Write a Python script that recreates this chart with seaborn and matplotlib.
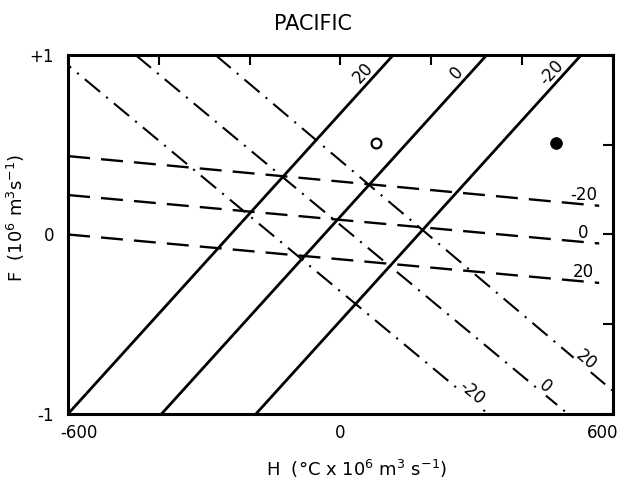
import numpy as np
import pandas as pd
import matplotlib
matplotlib.use("Agg")
import matplotlib.pyplot as plt
import matplotlib.transforms as mtransforms
import seaborn as sns

# solid family (labels 20, 0, -20): H where each line crosses F = -1 and F = +1
solid_labels = ["20", "0", "-20"]
solid_h_bottom = [-600, -394, -186]
solid_h_top = [116, 322, 530]

# dashed family (labels -20, 0, 20 from top): F at the two ends
dashed_labels = ["-20", "0", "20"]
dashed_h_ends = [-600, 570]
dashed_f_left = [0.437, 0.22, 0.0]
dashed_f_right = [0.16, -0.05, -0.27]

# dash-dot family (labels -20, 0, 20 from left): H where each crosses F = +1 and F = -1
dashdot_labels = ["-20", "0", "20"]
dashdot_h_top = [-627, -451, -275]
dashdot_h_bottom = [325, 501, 660]
dashdot_label_f = [-0.88, -0.85, -0.70]

# observed points
open_h, open_f = [79], [0.51]
filled_h, filled_f = [474], [0.51]


def two_point_frame(names, x0, y0, x1, y1):
    rows = []
    for n, a, b, c, d in zip(names, x0, y0, x1, y1):
        rows.append({"line": n, "H": a, "F": b})
        rows.append({"line": n, "H": c, "F": d})
    return pd.DataFrame(rows)


solid_df = two_point_frame(solid_labels, solid_h_bottom, [-1] * 3, solid_h_top, [1] * 3)
dashed_df = two_point_frame(dashed_labels, [dashed_h_ends[0]] * 3, dashed_f_left,
                            [dashed_h_ends[1]] * 3, dashed_f_right)
dashdot_df = two_point_frame(dashdot_labels, dashdot_h_top, [1] * 3, dashdot_h_bottom, [-1] * 3)

sns.set_theme(style="white")
plt.rcParams["font.family"] = ["DejaVu Sans"]
for key in ["text.color", "axes.labelcolor", "xtick.color", "ytick.color"]:
    plt.rcParams[key] = "black"

fig = plt.figure(figsize=(6.19, 4.88), dpi=100)
ax = fig.add_axes([0.110, 0.152, 0.880, 0.735])

sns.lineplot(data=solid_df, x="H", y="F", units="line", estimator=None, sort=False,
             color="black", lw=2.0, legend=False, ax=ax)
sns.lineplot(data=dashed_df, x="H", y="F", units="line", estimator=None, sort=False,
             color="black", lw=1.7, linestyle=(0, (9.3, 4.7)), legend=False, ax=ax)
sns.lineplot(data=dashdot_df, x="H", y="F", units="line", estimator=None, sort=False,
             color="black", lw=1.5, linestyle=(0, (9.5, 3.8, 1.0, 3.8)), legend=False, ax=ax)

sns.scatterplot(x=open_h, y=open_f, marker="o", s=50, facecolor="white",
                edgecolor="black", linewidth=1.6, ax=ax, zorder=5)
sns.scatterplot(x=filled_h, y=filled_f, marker="o", s=70, color="black",
                edgecolor="black", ax=ax, zorder=5)

# labels on the solid lines, near the top
for n, hb, ht in zip(solid_labels, solid_h_bottom, solid_h_top):
    f = 0.9
    h = hb + (ht - hb) * (f + 1) / 2 - 30
    ang = np.degrees(np.arctan2(2, ht - hb))
    ax.text(h, f, n, rotation=ang, transform_rotates_text=True, ha="center",
            va="center", fontsize=12, rotation_mode="anchor")

# labels above the right ends of the dashed lines
for n, fr in zip(dashed_labels, dashed_f_right):
    ax.text(dashed_h_ends[1] - 35, fr + 0.01, n, ha="center", va="bottom", fontsize=12)

# inline labels on the dash-dot lines
for n, ht, hb, f in zip(dashdot_labels, dashdot_h_top, dashdot_h_bottom, dashdot_label_f):
    h = ht + (hb - ht) * (1 - f) / 2 + 22
    ang = np.degrees(np.arctan2(-2, hb - ht))
    ax.text(h, f, n, rotation=ang, transform_rotates_text=True, ha="center",
            va="center", fontsize=12, rotation_mode="anchor",
            bbox=dict(facecolor="white", edgecolor="none", pad=0.5))

ax.set_xlim(-600, 600)
ax.set_ylim(-1, 1)
ax.set_xticks([-600, -400, -200, 0, 200, 400, 600])
ax.set_xticklabels(["-600", "", "", "0", "", "", "600"])
ax.set_yticks([-1, -0.5, 0, 0.5, 1])
ax.set_yticklabels(["-1", "", "0", "", "+1"])
ax.tick_params(direction="in", length=7, width=1.5, top=True, right=True,
               labelsize=12, colors="black")
ax.tick_params(axis="x", pad=7)
ax.tick_params(axis="y", pad=10)
for sp in ax.spines.values():
    sp.set_linewidth(2.2)
    sp.set_color("black")

# nudge the end labels inward like the original
xlabels = ax.get_xticklabels()
xlabels[0].set_transform(xlabels[0].get_transform()
                         + mtransforms.ScaledTranslation(0.11, 0, fig.dpi_scale_trans))
xlabels[-1].set_transform(xlabels[-1].get_transform()
                          + mtransforms.ScaledTranslation(-0.10, 0, fig.dpi_scale_trans))

ax.set_title("PACIFIC", fontsize=15, pad=18, x=0.45)
ax.set_xlabel(r"H  (°C x 10$^6$ m$^3$ s$^{-1}$)", fontsize=13, labelpad=12, x=0.53)
ax.set_ylabel(r"F  (10$^6$ m$^3$s$^{-1}$)", fontsize=13, labelpad=2, y=0.546)

fig.savefig("out.png", dpi=100)
